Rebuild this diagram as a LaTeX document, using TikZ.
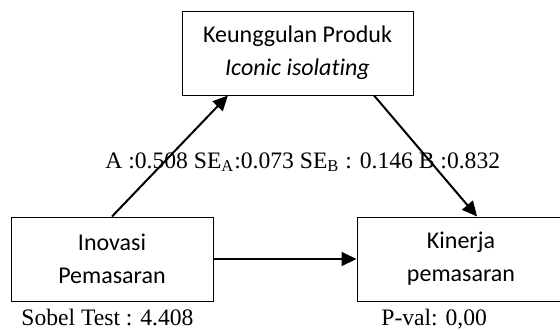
\documentclass[tikz,border=0pt]{standalone}
\usepackage{fontspec}
\setmainfont{Liberation Serif}
\newfontfamily\calibri[Ligatures=NoCommon]{Carlito}
\usetikzlibrary{arrows.meta,calc}

\begin{document}
\begin{tikzpicture}[x=0.5pt,y=-0.5pt]
\tikzstyle{varbox}=[draw,line width=0.5pt,rectangle,inner sep=0pt,minimum height=42pt,align=center,font=\calibri\fontsize{12}{16.5}\selectfont];
\tikzstyle{path}=[line width=1pt,-{Triangle[length=7.5pt,width=7pt]}];
\tikzstyle{stat}=[inner sep=0pt,anchor=base west,font=\fontsize{11.8}{14}\selectfont];
\useasboundingbox (0,0) rectangle (560,329);
\node[varbox,minimum width=115.5pt] (produk) at (297.5,53) {Keunggulan Produk\\\textit{Iconic isolating}};
\node[varbox,minimum width=101pt] (inovasi) at (112,259) {Inovasi\\Pemasaran};
\node[varbox,minimum width=104pt] (kinerja) at (461,259) {Kinerja\\pemasaran};
\draw[path] (inovasi.north) -- ($(produk.south west)!0.2!(produk.south east)$);
\draw[path] ($(produk.south west)!0.83!(produk.south east)$) -- ($(kinerja.north west)!0.577!(kinerja.north east)$);
\draw[path] (inovasi.east) -- (kinerja.west);
\node[stat] (koef) at (105,168) {A :0.508 SE\textsubscript{A}:0.073 SE\textsubscript{B} : 0.146 B :0.832};
\node[stat] (sobel) at (21,325) {Sobel Test : 4.408};
\node[stat] (pval) at (381,325) {P-val: 0,00};
\end{tikzpicture}
\end{document}
